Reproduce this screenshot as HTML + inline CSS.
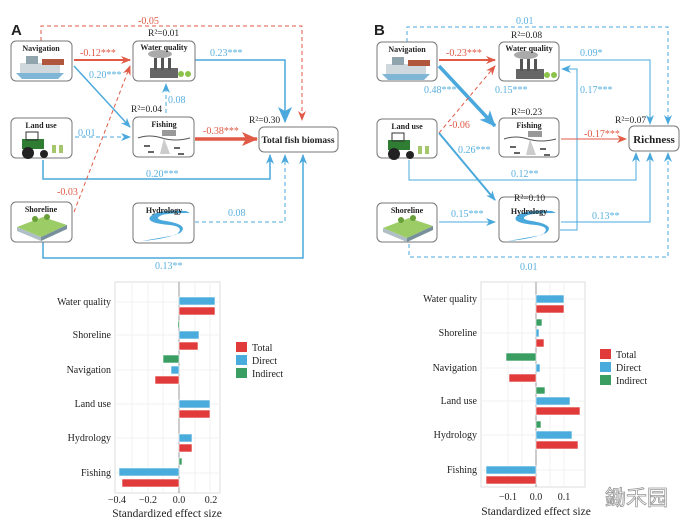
<!DOCTYPE html>
<html><head><meta charset="utf-8"><style>
body{margin:0;background:#fff}
svg{display:block;font-family:"Liberation Serif",serif}
.b{fill:#5ab0de}.r{fill:#e05a45}.k{fill:#222}
</style></head><body>
<svg width="692" height="524" viewBox="0 0 692 524" xmlns="http://www.w3.org/2000/svg">
<defs>
<marker id="ab" markerUnits="userSpaceOnUse" markerWidth="10" markerHeight="10" refX="9" refY="5" orient="auto"><path d="M0,1 L10,5 L0,9 L3,5z" fill="#4aa8dc"/></marker>
<marker id="ar" markerUnits="userSpaceOnUse" markerWidth="10" markerHeight="10" refX="9" refY="5" orient="auto"><path d="M0,1 L10,5 L0,9 L3,5z" fill="#e05a45"/></marker>
<marker id="abL" markerUnits="userSpaceOnUse" markerWidth="16" markerHeight="16" refX="15" refY="8" orient="auto"><path d="M0,1 L16,8 L0,15 L4,8z" fill="#4aa8dc"/></marker>
<marker id="arL" markerUnits="userSpaceOnUse" markerWidth="16" markerHeight="16" refX="15" refY="8" orient="auto"><path d="M0,1 L16,8 L0,15 L4,8z" fill="#e05a45"/></marker>
<g id="boat"><rect x="6" y="16" width="40" height="10" fill="#cfd8dc"/><rect x="28" y="12" width="22" height="6" fill="#b0573e"/><rect x="12" y="9" width="12" height="8" fill="#90a4ae"/><path d="M2,26 L50,26 L44,32 L8,32z" fill="#7fb5d5"/></g>
<g id="tractor"><rect x="8" y="12" width="22" height="10" fill="#2e7d32"/><rect x="12" y="5" width="12" height="8" fill="none" stroke="#333"/><circle cx="14" cy="26" r="6" fill="#222"/><circle cx="30" cy="27" r="4" fill="#222"/><rect x="38" y="18" width="4" height="8" fill="#a5c66b"/><rect x="45" y="18" width="4" height="8" fill="#a5c66b"/></g>
<g id="shore"><path d="M4,22 L30,12 L54,20 L28,32z" fill="#9ccc65"/><path d="M28,32 L54,20 L54,24 L28,36z" fill="#78909c"/><path d="M4,22 L28,32 L28,36 L4,26z" fill="#b0bec5"/><circle cx="22" cy="14" r="3" fill="#689f38"/><circle cx="34" cy="12" r="3" fill="#689f38"/></g>
<g id="factory"><rect x="14" y="22" width="28" height="10" fill="#666"/><rect x="18" y="12" width="3" height="12" fill="#555"/><rect x="25" y="10" width="3" height="14" fill="#555"/><rect x="32" y="12" width="3" height="12" fill="#555"/><ellipse cx="24" cy="8" rx="12" ry="4" fill="#aaa"/><circle cx="45" cy="28" r="3" fill="#8bc34a"/><circle cx="52" cy="28" r="3" fill="#8bc34a"/></g>
<g id="fish"><path d="M4,18 Q15,14 28,18 T56,18" stroke="#555" fill="none"/><rect x="28" y="10" width="14" height="6" fill="#999"/><path d="M30,18 L26,34 L36,34z" fill="#ccc"/><path d="M10,26h6M14,32h6M40,28h6M44,34h6" stroke="#666" stroke-width="2"/></g>
<g id="hydro"><path d="M50,8 Q20,6 14,14 Q10,20 34,22 Q50,24 40,32 L6,38 Q30,36 44,30 Q54,22 30,18 Q16,16 26,12 Q34,10 54,10z" fill="#4aa8dc"/></g>
</defs>

<!-- ================= PANEL A ================= -->
<text x="11" y="35" font-family="Liberation Sans" font-weight="bold" font-size="15" class="k">A</text>
<g fill="none" stroke-width="1.5">
<path d="M41,41 V26 H302 V120" stroke="#e05a45" stroke-dasharray="4,3" stroke-width="1" marker-end="url(#ar)"/>
<path d="M74,60 H130" stroke="#e05a45" stroke-width="2" marker-end="url(#ar)"/>
<path d="M74,66 L130,127" stroke="#4aa8dc" marker-end="url(#ab)"/>
<path d="M195,60 H285 V122" stroke="#4aa8dc" marker-end="url(#abL)"/>
<path d="M166,113 V84" stroke="#4aa8dc" stroke-dasharray="4,3" stroke-width="1" marker-end="url(#ab)"/>
<path d="M75,137 H130" stroke="#4aa8dc" stroke-dasharray="4,3" stroke-width="1" marker-end="url(#ab)"/>
<path d="M195,139 H257" stroke="#e05a45" stroke-width="3.5" marker-end="url(#arL)"/>
<path d="M43,160 V179 H270 V155" stroke="#4aa8dc" marker-end="url(#ab)"/>
<path d="M74,212 L130,66" stroke="#e05a45" stroke-dasharray="4,3" stroke-width="1" marker-end="url(#ar)"/>
<path d="M195,222 H285 V155" stroke="#4aa8dc" stroke-dasharray="4,3" stroke-width="1" marker-end="url(#ab)"/>
<path d="M43,242 V258 H303 V155" stroke="#4aa8dc" marker-end="url(#ab)"/>
</g>
<g fill="#fff" stroke="#777" stroke-width="1">
<rect x="11" y="41" width="61" height="40" rx="5"/><rect x="11" y="118" width="61" height="40" rx="5"/><rect x="11" y="202" width="61" height="40" rx="5"/>
<rect x="133" y="41" width="62" height="40" rx="5"/><rect x="133" y="117" width="61" height="40" rx="5"/><rect x="133" y="203" width="61" height="40" rx="5"/>
<rect x="259" y="127" width="79" height="25" rx="5"/>
</g>
<use href="#boat" x="14" y="47"/><use href="#tractor" x="14" y="127"/><use href="#shore" x="13" y="205"/>
<use href="#factory" x="136" y="46"/><use href="#fish" x="134" y="120"/><use href="#hydro" x="136" y="203"/>
<g font-size="8" font-weight="bold" text-anchor="middle" class="k">
<text x="41" y="51">Navigation</text><text x="41" y="128">Land use</text><text x="41" y="212">Shoreline</text>
<text x="164" y="50">Water quality</text><text x="164" y="127">Fishing</text><text x="164" y="213">Hydrology</text>
</g>
<text x="298" y="143" font-size="9.5" font-weight="bold" text-anchor="middle" class="k">Total fish biomass</text>
<g font-size="9.5" class="k"><text x="148" y="36">R²=0.01</text><text x="131" y="112">R²=0.04</text><text x="249" y="123">R²=0.30</text></g>
<g font-size="10">
<text x="138" y="24" class="r">-0.05</text><text x="80" y="56" class="r">-0.12***</text><text x="89" y="78" class="b">0.20***</text>
<text x="210" y="56" class="b">0.23***</text><text x="168" y="103" class="b">0.08</text><text x="78" y="136" class="b">0.01</text>
<text x="203" y="134" class="r">-0.38***</text><text x="146" y="177" class="b">0.20***</text><text x="57" y="195" class="r">-0.03</text>
<text x="228" y="216" class="b">0.08</text><text x="155" y="269" class="b">0.13**</text>
</g>

<!-- ================= PANEL B ================= -->
<text x="374" y="35" font-family="Liberation Sans" font-weight="bold" font-size="15" class="k">B</text>
<g fill="none" stroke-width="1.5">
<path d="M407,42 V27 H668 V124" stroke="#4aa8dc" stroke-dasharray="4,3" stroke-width="1" marker-end="url(#ab)"/>
<path d="M439,60 H495" stroke="#e05a45" stroke-width="2" marker-end="url(#ar)"/>
<path d="M439,66 L495,126" stroke="#4aa8dc" stroke-width="3.5" marker-end="url(#abL)"/>
<path d="M439,133 L495,66" stroke="#e05a45" stroke-dasharray="4,3" stroke-width="1" marker-end="url(#ar)"/>
<path d="M439,133 L495,200" stroke="#4aa8dc" stroke-width="2" marker-end="url(#ab)"/>
<path d="M560,60 H650 V124" stroke="#4aa8dc" stroke-width="1" marker-end="url(#ab)"/>
<path d="M560,230 H577 V69 H562" stroke="#4aa8dc" stroke-width="1" marker-end="url(#ab)"/>
<path d="M561,139 H626" stroke="#e05a45" stroke-width="1" marker-end="url(#ar)"/>
<path d="M409,160 V180 H636 V153" stroke="#4aa8dc" stroke-width="1" marker-end="url(#ab)"/>
<path d="M439,222 H495" stroke="#4aa8dc" stroke-width="1" marker-end="url(#ab)"/>
<path d="M561,222 H650 V153" stroke="#4aa8dc" stroke-width="1" marker-end="url(#ab)"/>
<path d="M409,244 V257 H668 V153" stroke="#4aa8dc" stroke-dasharray="4,3" stroke-width="1" marker-end="url(#ab)"/>
</g>
<g fill="#fff" stroke="#777" stroke-width="1">
<rect x="377" y="42" width="60" height="39" rx="5"/><rect x="377" y="119" width="60" height="39" rx="5"/><rect x="377" y="203" width="60" height="39" rx="5"/>
<rect x="499" y="42" width="60" height="39" rx="5"/><rect x="499" y="118" width="60" height="39" rx="5"/><rect x="499" y="197" width="60" height="45" rx="5"/>
<rect x="629" y="126" width="50" height="25" rx="5"/>
</g>
<use href="#boat" x="380" y="48"/><use href="#tractor" x="380" y="128"/><use href="#shore" x="379" y="206"/>
<use href="#factory" x="502" y="47"/><use href="#fish" x="500" y="121"/><use href="#hydro" x="502" y="203"/>
<g font-size="8" font-weight="bold" text-anchor="middle" class="k">
<text x="407" y="52">Navigation</text><text x="407" y="129">Land use</text><text x="407" y="213">Shoreline</text>
<text x="529" y="51">Water quality</text><text x="529" y="128">Fishing</text><text x="529" y="214">Hydrology</text>
</g>
<text x="654" y="143" font-size="11" font-weight="bold" text-anchor="middle" class="k">Richness</text>
<g font-size="9.5" class="k"><text x="511" y="38">R²=0.08</text><text x="511" y="115">R²=0.23</text><text x="615" y="123">R²=0.07</text><text x="514" y="201">R²=0.10</text></g>
<g font-size="10">
<text x="516" y="24" class="b">0.01</text><text x="446" y="56" class="r">-0.23***</text><text x="424" y="93" class="b">0.48***</text>
<text x="495" y="93" class="b">0.15***</text><text x="580" y="56" class="b">0.09*</text><text x="580" y="93" class="b">0.17***</text>
<text x="449" y="128" class="r">-0.06</text><text x="458" y="153" class="b">0.26***</text><text x="584" y="137" class="r">-0.17***</text>
<text x="511" y="177" class="b">0.12**</text><text x="451" y="217" class="b">0.15***</text><text x="592" y="219" class="b">0.13**</text>
<text x="520" y="270" class="b">0.01</text>
</g>

<!-- ================= BAR CHART LEFT ================= -->
<g>
<rect x="115" y="282" width="105" height="211" fill="#fff" stroke="#ddd"/>
<g stroke="#f0f0f0"><path d="M132,282V493M163,282V493M195,282V493M148,282V493M210,282V493"/><path d="M115,302H220M115,335H220M115,370H220M115,404H220M115,438H220M115,473H220"/></g>
<path d="M179,282V493" stroke="#999"/>
<g fill="#4aacdc" stroke="#fff" stroke-width="0.6">
<rect x="179" y="297" width="36" height="8"/><rect x="179" y="331" width="20" height="8"/><rect x="171" y="366" width="8" height="8"/>
<rect x="179" y="400" width="31" height="8"/><rect x="179" y="434" width="13" height="8"/><rect x="119" y="468" width="60" height="8"/>
</g>
<g fill="#e03a3a" stroke="#fff" stroke-width="0.6">
<rect x="179" y="307" width="36" height="8"/><rect x="179" y="342" width="19" height="8"/><rect x="155" y="376" width="24" height="8"/>
<rect x="179" y="410" width="31" height="8"/><rect x="179" y="444" width="13" height="8"/><rect x="122" y="479" width="57" height="8"/>
</g>
<g fill="#3a9e62" stroke="#fff" stroke-width="0.6">
<rect x="178" y="321" width="1.5" height="7"/><rect x="163" y="355" width="16" height="8"/><rect x="179" y="458" width="3" height="7"/>
</g>
<g font-size="10" text-anchor="end" class="k">
<text x="111" y="305">Water quality</text><text x="111" y="338">Shoreline</text><text x="111" y="373">Navigation</text>
<text x="111" y="407">Land use</text><text x="111" y="441">Hydrology</text><text x="111" y="476">Fishing</text>
</g>
<g font-size="10" text-anchor="middle" class="k"><text x="117" y="503">−0.4</text><text x="148" y="503">−0.2</text><text x="179" y="503">0.0</text><text x="211" y="503">0.2</text></g>
<text x="167" y="517" font-size="11.5" text-anchor="middle" class="k">Standardized effect size</text>
<rect x="236" y="342" width="11" height="10" fill="#e03a3a"/><rect x="236" y="355" width="11" height="10" fill="#4aacdc"/><rect x="236" y="368" width="11" height="10" fill="#3a9e62"/>
<g font-size="10" class="k"><text x="252" y="351">Total</text><text x="252" y="364">Direct</text><text x="252" y="377">Indirect</text></g>
</g>

<!-- ================= BAR CHART RIGHT ================= -->
<g>
<rect x="481" y="282" width="104" height="205" fill="#fff" stroke="#ddd"/>
<g stroke="#f0f0f0"><path d="M508,282V487M564,282V487M522,282V487M550,282V487"/><path d="M481,299H585M481,333H585M481,368H585M481,401H585M481,435H585M481,470H585"/></g>
<path d="M536,282V487" stroke="#999"/>
<g fill="#4aacdc" stroke="#fff" stroke-width="0.6">
<rect x="536" y="295" width="28" height="8"/><rect x="536" y="329" width="3" height="8"/><rect x="536" y="364" width="4" height="8"/>
<rect x="536" y="397" width="34" height="8"/><rect x="536" y="431" width="36" height="8"/><rect x="486" y="466" width="50" height="8"/>
</g>
<g fill="#e03a3a" stroke="#fff" stroke-width="0.6">
<rect x="536" y="305" width="28" height="8"/><rect x="536" y="339" width="8" height="8"/><rect x="509" y="374" width="27" height="8"/>
<rect x="536" y="407" width="44" height="8"/><rect x="536" y="441" width="42" height="8"/><rect x="486" y="476" width="50" height="8"/>
</g>
<g fill="#3a9e62" stroke="#fff" stroke-width="0.6">
<rect x="536" y="319" width="6" height="7"/><rect x="506" y="353" width="30" height="8"/><rect x="536" y="387" width="9" height="7"/><rect x="536" y="421" width="5" height="7"/>
</g>
<g font-size="10" text-anchor="end" class="k">
<text x="477" y="302">Water quality</text><text x="477" y="336">Shoreline</text><text x="477" y="371">Navigation</text>
<text x="477" y="404">Land use</text><text x="477" y="438">Hydrology</text><text x="477" y="473">Fishing</text>
</g>
<g font-size="10" text-anchor="middle" class="k"><text x="508" y="500">−0.1</text><text x="536" y="500">0.0</text><text x="564" y="500">0.1</text></g>
<text x="536" y="515" font-size="11.5" text-anchor="middle" class="k">Standardized effect size</text>
<rect x="600" y="349" width="11" height="10" fill="#e03a3a"/><rect x="600" y="362" width="11" height="10" fill="#4aacdc"/><rect x="600" y="375" width="11" height="10" fill="#3a9e62"/>
<g font-size="10" class="k"><text x="616" y="358">Total</text><text x="616" y="371">Direct</text><text x="616" y="384">Indirect</text></g>
</g>
<text x="605" y="505" font-family="Noto Sans CJK SC, sans-serif" font-size="21" fill="none" stroke="#999" stroke-width="0.8">鋤禾园</text>
</svg>
</body></html>
